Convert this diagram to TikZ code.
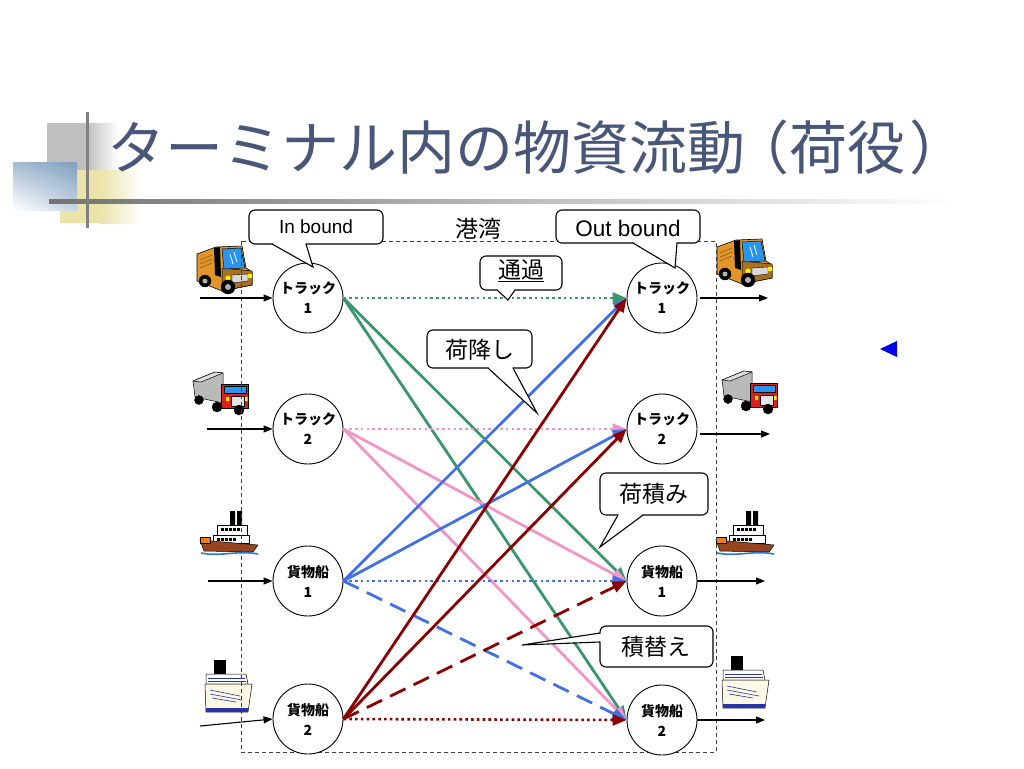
\documentclass[tikz,border=0pt]{standalone}
\usepackage{fontspec}
\setmainfont{Liberation Sans}
\newfontfamily\jp{Noto Sans CJK JP}
\usetikzlibrary{arrows.meta,calc,shadings}
\definecolor{titlec}{RGB}{72,86,122}
\definecolor{gl}{RGB}{58,150,108}
\definecolor{pk}{RGB}{242,150,200}
\definecolor{bl}{RGB}{66,112,232}
\definecolor{dr}{RGB}{140,0,0}
\definecolor{vanor}{RGB}{226,150,40}
\definecolor{winblue}{RGB}{40,150,240}
\definecolor{cabred}{RGB}{225,30,30}
\definecolor{hullbr}{RGB}{150,70,30}
\definecolor{waterblue}{RGB}{40,120,220}
\definecolor{linerblue}{RGB}{40,50,170}
\definecolor{cream}{RGB}{252,248,230}
\definecolor{yel}{RGB}{234,228,170}
\definecolor{stb}{RGB}{128,160,190}
\tikzset{
  stn/.style={circle, draw, line width=0.9pt, minimum size=70pt, inner sep=0pt, align=center, fill=white,
    font=\jp\bfseries\fontsize{14}{20}\selectfont},
  flowtip/.style={-{Triangle[length=14pt,width=11pt]}},
  solidln/.style={flowtip, line width=2.8pt},
  dotln/.style={flowtip, line width=2.6pt, dash pattern=on 2.6pt off 3.2pt},
  dashln/.style={flowtip, line width=2.8pt, dash pattern=on 17pt off 9pt},
  feed/.style={line width=1.1pt, -{Triangle[length=9pt,width=7pt]}},
  callbox/.style={draw=black, line width=1.1pt, fill=white, rounded corners=6pt},
  calltxt/.style={font=\jp\fontsize{23}{25}\selectfont, inner sep=0pt},
  van/.pic={
    \filldraw[fill=vanor, draw=black, line width=0.6pt] (-27,-18) -- (-8,-25) -- (18,-26) -- (22,-4) -- (28,0) -- (28,13) -- (-2,19) -- (-27,9) -- cycle;
    \filldraw[fill=vanor!75!black, draw=black, line width=0.5pt] (-2,-4) -- (28,-1) -- (28,13) -- (-2,19) -- cycle;
    \fill[black] (-10,-24) -- (-4,-25) -- (-3,5) -- (-9,3) -- cycle;
    \filldraw[fill=winblue, draw=black, line width=0.5pt] (-2,-23) -- (17,-24) -- (21,-4) -- (0,-3) -- cycle;
    \draw[white, line width=0.8pt] (6,-18) -- (9,-8) (10,-20) -- (13,-10);
    \filldraw[fill=gray!30, draw=black, line width=0.4pt] (8,3) -- (24,2) -- (24,9) -- (8,11) -- cycle;
    \fill[yellow] (4,6) circle (2.6) (26,4) circle (2.4);
    \filldraw[fill=black] (-19,9) circle (6) (4,15) circle (7);
    \fill[gray!60] (-19,9) circle (2.5) (4,15) circle (3);
    \draw[vanor!60!black, line width=0.6pt] (-24,-12) -- (-12,-17) (-24,-8) -- (-12,-13) (-24,-4) -- (-12,-9);
  },
  rig/.pic={
    \filldraw[fill=gray!55, draw=black, line width=0.5pt] (-28,-12) -- (-6,-21) -- (2,-20) -- (2,10) -- (-26,4) -- cycle;
    \filldraw[fill=gray!25, draw=black, line width=0.5pt] (-28,-12) -- (-6,-21) -- (2,-20) -- (-20,-11) -- cycle;
    \filldraw[fill=cabred, draw=black, line width=0.5pt] (0,-9) rectangle (27,15);
    \filldraw[fill=winblue, draw=black, line width=0.4pt] (3,-7) rectangle (25,0);
    \filldraw[fill=gray!20, draw=black, line width=0.4pt] (10,3) rectangle (23,13);
    \fill[yellow] (5,4) rectangle (8,8) (24,4) rectangle (26.5,8);
    \filldraw[fill=black] (-22,7) circle (4.5) (-4,14) circle (5) (18,17) circle (5);
  },
  steamer/.pic={
    \fill[black] (1,-23) rectangle (6,-5) (8,-23) rectangle (13,-5);
    \filldraw[fill=white, draw=black, line width=0.5pt] (-12,-9) rectangle (18,1);
    \filldraw[fill=white, draw=black, line width=0.5pt] (-16,1) rectangle (20,9);
    \foreach \i in {0,...,4} {\fill[black] (-8+\i*4,-6) rectangle ++(2.5,2.5); \fill[black] (-12+\i*4,4) rectangle ++(2.5,2.5);}
    \filldraw[fill=hullbr, draw=black, line width=0.5pt] (-29,6) -- (29,11) -- (24,18) -- (-25,17) -- cycle;
    \filldraw[fill=orange!70!brown, draw=black, line width=0.4pt] (-29,3) rectangle (-19,9);
    \draw[waterblue, line width=1.6pt] (-28,19) .. controls (-8,23) and (8,16) .. (29,20);
  },
  liner/.pic={
    \filldraw[fill=black] (-14,-28) rectangle (-3,-14);
    \filldraw[fill=white, draw=black, line width=0.5pt] (-22,-14) -- (18,-14) -- (20,-4) -- (-22,-4) -- cycle;
    \draw[linerblue, line width=0.8pt] (-20,-10) -- (17,-10) (-20,-7) -- (18,-7);
    \filldraw[fill=cream, draw=black, line width=0.5pt] (-23,-4) -- (24,-4) -- (20,24) -- (-22,24) -- cycle;
    \draw[linerblue, line width=0.6pt] (-18,2) -- (12,8) (-18,6) -- (14,12) (-16,10) -- (8,14);
    \fill[linerblue] (-22,20) rectangle (20,24);
  }
}
\begin{document}
\begin{tikzpicture}[x=1pt,y=-1pt]
\useasboundingbox[fill=white] (0,0) rectangle (1024,768);
% title decoration
\fill[black!25] (47,123) rectangle (87,170);
\shade[left color=black!25, right color=white] (87,123) rectangle (118,170);
\fill[yel] (60,170) rectangle (100,223);
\shade[left color=yel, right color=white] (100,170) rectangle (142,223);
\shade[upper left=stb!70, upper right=stb, lower left=white, lower right=stb!45] (13,162) rectangle (77,210);
\shade[left color=black!55, right color=white] (49,199) rectangle (955,203);
\fill[black!50] (85.5,112) rectangle (88.5,228);
\node[anchor=west, text=titlec, font=\jp\fontsize{58}{62}\selectfont, inner sep=0pt] (title) at (107,147) {ターミナル内の物資流動\kern-14pt（荷役\kern4pt）};

% icons
\pic at (224,272) {van};
\pic at (221,393) {rig};
\pic at (229,534) {steamer};
\pic at (228,688) {liner};
\pic at (744,265) {van};
\pic at (750,392) {rig};
\pic at (745,534) {steamer};
\pic at (745,684) {liner};

% harbour frame
\draw[black!75, line width=0.9pt, dash pattern=on 4pt off 3pt] (241,241) rectangle (716,752);
\node[font=\jp\fontsize{23}{25}\selectfont, inner sep=0pt] (port) at (478,229) {港湾};

% stations
\node[stn] (L1) at (308,298) {トラック\\1};
\node[stn] (L2) at (308,429) {トラック\\2};
\node[stn] (L3) at (308,581) {貨物船\\1};
\node[stn] (L4) at (308,719) {貨物船\\2};
\node[stn] (R1) at (662,298) {トラック\\1};
\node[stn] (R2) at (662,429) {トラック\\2};
\node[stn] (R3) at (662,581) {貨物船\\1};
\node[stn] (R4) at (662,720) {貨物船\\2};

% flows
\draw[dotln, gl] (L1.east) -- (R1.west);
\draw[solidln, gl] (L1.east) -- (R3.west);
\draw[solidln, gl] (L1.east) -- (R4.west);
\draw[dotln, pk] (L2.east) -- (R2.west);
\draw[solidln, pk] (L2.east) -- (R3.west);
\draw[solidln, pk] (L2.east) -- (R4.west);
\draw[solidln, bl] (L3.east) -- (R1.west);
\draw[solidln, bl] (L3.east) -- (R2.west);
\draw[dotln, bl] (L3.east) -- (R3.west);
\draw[dashln, bl] (L3.east) -- (R4.west);
\draw[solidln, dr] (L4.east) -- (R1.west);
\draw[solidln, dr] (L4.east) -- (R2.west);
\draw[dashln, dr] (L4.east) -- (R3.west);
\draw[dotln, dr] (L4.east) -- (R4.west);

% feeds in and out
\coordinate (a1) at (200,298);
\coordinate (a2) at (207,429);
\coordinate (a3) at (208,581);
\coordinate (a4) at (200,726);
\coordinate (b1) at (768,298);
\coordinate (b2) at (770,434);
\coordinate (b3) at (765,581);
\coordinate (b4) at (765,720);
\draw[feed] (a1) -- (L1.west);
\draw[feed] (a2) -- (L2.west);
\draw[feed] (a3) -- (L3.west);
\draw[feed] (a4) -- (L4.west);
\draw[feed] ([xshift=3pt]R1.east) -- (b1);
\draw[feed] ([shift={(3pt,-5pt)}]R2.east) -- (b2);
\draw[feed] (R3.east) -- (b3);
\draw[feed] (R4.east) -- (b4);

% callouts
% In bound
\draw[callbox] (249,210) rectangle (383,244);
\fill[white] (272.5,242) -- (272.5,244) -- (313,267) -- (305.5,244) -- (305.5,242) -- cycle;
\draw[line width=1.1pt] (272,244) -- (313,267) -- (306,244);
\node[font=\fontsize{19}{21}\selectfont, inner sep=0pt] (inb) at (316,227) {In bound};
% Out bound
\draw[callbox] (556,210) rectangle (700,243);
\fill[white] (633.5,241) -- (633.5,243) -- (675,268) -- (676.5,243) -- (676.5,241) -- cycle;
\draw[line width=1.1pt] (633,243) -- (675,268) -- (677,243);
\node[font=\fontsize{22.5}{24}\selectfont, inner sep=0pt] (outb) at (628,228) {Out bound};
% pass
\draw[callbox] (480,256) rectangle (562,290);
\fill[white] (497.5,288) -- (497.5,290) -- (508,300) -- (514.5,290) -- (514.5,288) -- cycle;
\draw[line width=1.1pt] (497,290) -- (508,300) -- (515,290);
\node[calltxt] (pass) at (521,271) {\underline{通過}};
% unload
\draw[callbox] (427,330) rectangle (532,368);
\fill[white] (488.5,366) -- (488.5,368) -- (537,413) -- (512.5,368) -- (512.5,366) -- cycle;
\draw[line width=1.1pt] (488,368) -- (537,413) -- (513,368);
\node[calltxt] (unload) at (480,350) {荷降し};
% load
\draw[callbox] (600,473) rectangle (708,515);
\fill[white] (618.5,513) -- (618.5,515) -- (600,547) -- (642.5,515) -- (642.5,513) -- cycle;
\draw[line width=1.1pt] (618,515) -- (600,547) -- (643,515);
\node[calltxt] (load) at (654,494) {荷積み};
% transship
\draw[callbox] (600,626) rectangle (713,667);
\fill[white] (602,633.5) -- (600,633.5) -- (522,645) -- (600,641.5) -- (602,641.5) -- cycle;
\draw[line width=1.1pt] (600,633) -- (522,645) -- (600,642);
\node[calltxt] (trans) at (656,647) {積替え};

% marker
\fill[blue!90!black] (880,349) -- (897,341) -- (897,357) -- cycle;
\end{tikzpicture}
\end{document}
